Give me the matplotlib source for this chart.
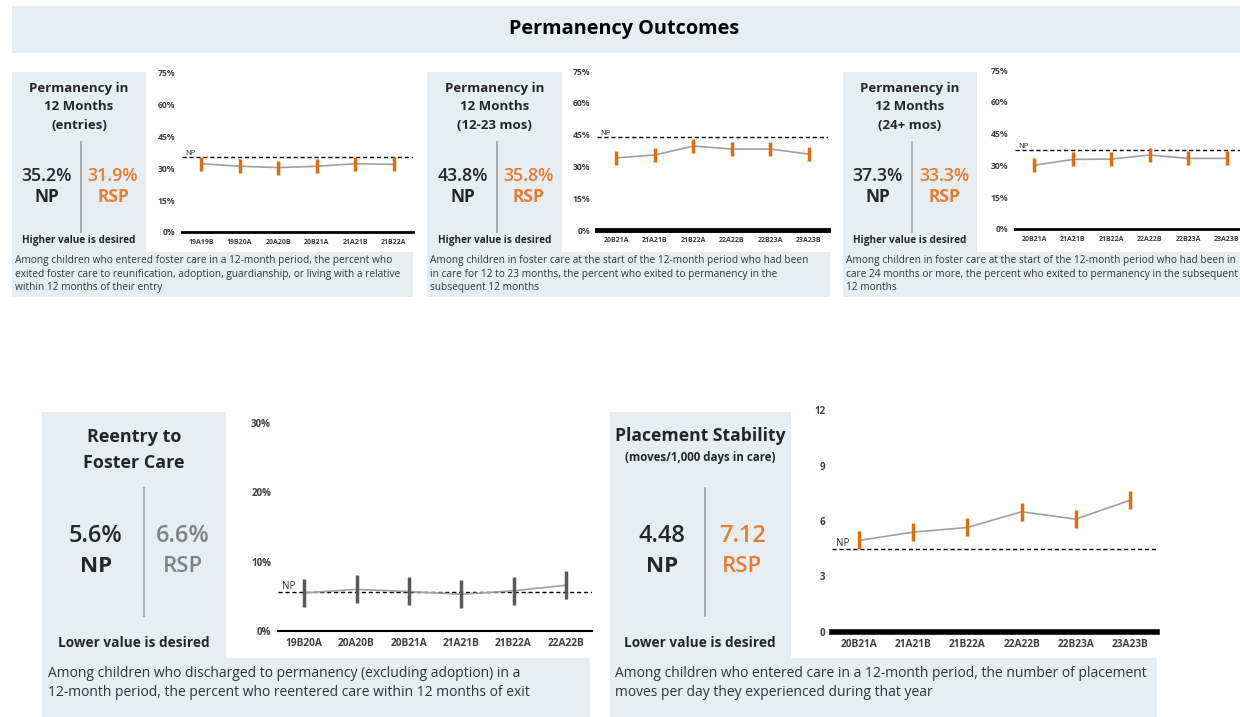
import matplotlib.pyplot as plt
from matplotlib.patches import Rectangle
from matplotlib.lines import Line2D
from matplotlib.transforms import blended_transform_factory

plt.rcParams['font.family'] = ['Open Sans', 'DejaVu Sans']

W, H = 1240, 717
BG = '#e6eef4'
ORANGE = '#e46c0a'
ORANGE_TXT = '#e97c30'
DARK = '#262626'

# ---- data ----
entries_periods = ['19A19B', '19B20A', '20A20B', '20B21A', '21A21B', '21B22A']
entries_rsp = [32.2, 31.0, 30.4, 31.0, 32.2, 31.9]
entries_np = 35.2

mos12_periods = ['20B21A', '21A21B', '21B22A', '22A22B', '22B23A', '23A23B']
mos12_rsp = [34.0, 35.4, 39.6, 38.2, 38.2, 35.8]
mos12_np = 43.8

mos24_periods = ['20B21A', '21A21B', '21B22A', '22A22B', '22B23A', '23A23B']
mos24_rsp = [30.1, 32.8, 33.0, 34.9, 33.3, 33.3]
mos24_np = 37.3

reentry_periods = ['19B20A', '20A20B', '20B21A', '21A21B', '21B22A', '22A22B']
reentry_rsp = [5.5, 6.0, 5.7, 5.3, 5.8, 6.6]
reentry_np = 5.6

stability_periods = ['20B21A', '21A21B', '21B22A', '22A22B', '22B23A', '23A23B']
stability_rsp = [4.95, 5.4, 5.65, 6.5, 6.1, 7.12]
stability_np = 4.48

pct_ticks = [0, 15, 30, 45, 60, 75]
reentry_ticks = [0, 10, 20, 30]
stability_ticks = [0, 3, 6, 9, 12]

fig = plt.figure(figsize=(12.4, 7.17), dpi=100)
fig.patch.set_facecolor('white')


def box(x0, y0, x1, y1, color=BG):
    fig.add_artist(Rectangle((x0 / W, 1 - y1 / H), (x1 - x0) / W, (y1 - y0) / H,
                             transform=fig.transFigure, facecolor=color,
                             edgecolor='none', zorder=0))


def txt(x, y, s, **kw):
    kw.setdefault('ha', 'center')
    kw.setdefault('va', 'center')
    kw.setdefault('color', DARK)
    fig.text(x / W, 1 - y / H, s, **kw)


def vline(x, y0, y1):
    fig.add_artist(Line2D([x / W, x / W], [1 - y0 / H, 1 - y1 / H], color='#a6a6a6',
                          lw=1.3, transform=fig.transFigure))


def chart(x0, x1, ytop, ybot, periods, vals, np_val, ymax, ticks, fmt,
          mcolor, ms, mew, spine_lw, tsize, xsize, npsize):
    ax = fig.add_axes([x0 / W, 1 - ybot / H, (x1 - x0) / W, (ybot - ytop) / H])
    ax.patch.set_alpha(0)
    ax.axhline(np_val, color='black', lw=1, ls=(0, (3, 2)), zorder=1)
    ax.plot(range(len(vals)), vals, color='#a0a0a0', lw=1.2, zorder=2)
    ax.plot(range(len(vals)), vals, ls='none', marker='|', ms=ms, mew=mew,
            color=mcolor, zorder=3)
    tr = blended_transform_factory(ax.transAxes, ax.transData)
    ax.text(0.012, np_val, 'NP', transform=tr, ha='left', va='bottom',
            fontsize=npsize, color=DARK)
    ax.set_xlim(-0.5, len(vals) - 0.5)
    ax.set_ylim(0, ymax)
    ax.set_yticks(ticks, [fmt.format(t) for t in ticks])
    ax.set_xticks(range(len(periods)), periods)
    for s in ['top', 'right', 'left']:
        ax.spines[s].set_visible(False)
    ax.spines['bottom'].set_linewidth(spine_lw)
    ax.spines['bottom'].set_color('black')
    ax.tick_params(axis='y', length=0, pad=5, labelsize=tsize, labelcolor='#404040')
    ax.tick_params(axis='x', length=0, pad=5, labelsize=xsize, labelcolor='#404040')
    for lab in ax.get_xticklabels() + ax.get_yticklabels():
        lab.set_fontweight('bold')
    return ax


# ---- banner ----
box(12, 6, 1240, 53)
txt(624, 29, 'Permanency Outcomes', fontsize=14.3, fontweight='bold', color='black')

# ---- top row ----
top = [
    (12, 146, 413, 182, 413, 232, 'Permanency in\n12 Months\n(entries)', '35.2%', '31.9%',
     entries_periods, entries_rsp, entries_np, 2.0,
     'Among children who entered foster care in a 12-month period, the percent who\n'
     'exited foster care to reunification, adoption, guardianship, or living with a relative\n'
     'within 12 months of their entry'),
    (427, 562, 830, 597, 828, 230, 'Permanency in\n12 Months\n(12-23 mos)', '43.8%', '35.8%',
     mos12_periods, mos12_rsp, mos12_np, 3.5,
     'Among children in foster care at the start of the 12-month period who had been\n'
     'in care for 12 to 23 months, the percent who exited to permanency in the\n'
     'subsequent 12 months'),
    (843, 977, 1240, 1015, 1246, 229, 'Permanency in\n12 Months\n(24+ mos)', '37.3%', '33.3%',
     mos24_periods, mos24_rsp, mos24_np, 2.0,
     'Among children in foster care at the start of the 12-month period who had been in\n'
     'care 24 months or more, the percent who exited to permanency in the subsequent\n'
     '12 months'),
]

for (bx0, bx1, dx1, ax0, ax1, ybot, title, npv, rspv, per, vals, npval, slw, desc) in top:
    box(bx0, 72, bx1, 253)
    box(bx0, 252, dx1, 297)
    cx = (bx0 + bx1) / 2
    txt(cx, 107, title, fontsize=9.5, fontweight='bold', linespacing=1.55)
    vline(cx + 2, 142, 232)
    txt(cx - 32, 176, npv, fontsize=12.8, fontweight='semibold')
    txt(cx - 32, 197, 'NP', fontsize=12.5, fontweight='bold')
    txt(cx + 34, 176, rspv, fontsize=12.8, fontweight='semibold', color=ORANGE_TXT)
    txt(cx + 34, 197, 'RSP', fontsize=12.5, fontweight='bold', color=ORANGE_TXT)
    txt(cx, 240, 'Higher value is desired', fontsize=7.2, fontweight='bold')
    txt(bx0 + 3, 274, desc, ha='left', fontsize=7.3, color='#333333', linespacing=1.35)
    chart(ax0, ax1, ybot - 2.12 * 75, ybot, per, vals, npval, 75, pct_ticks, '{}%',
          ORANGE, 10, 2.5, slw, 6.2, 5, 5.5)

# ---- bottom left: reentry ----
box(42, 412, 226, 659)
box(42, 658, 590, 717)
txt(134, 450, 'Reentry to\nFoster Care', fontsize=13, fontweight='bold', linespacing=1.6)
vline(144, 488, 616)
txt(96, 536, '5.6%', fontsize=17, fontweight='semibold')
txt(96, 567, 'NP', fontsize=16, fontweight='bold')
txt(183, 536, '6.6%', fontsize=17, fontweight='semibold', color='#808080')
txt(183, 567, 'RSP', fontsize=16, fontweight='semibold', color='#808080')
txt(134, 643, 'Lower value is desired', fontsize=9.8, fontweight='bold')
txt(48, 683, 'Among children who discharged to permanency (excluding adoption) in a\n'
    '12-month period, the percent who reentered care within 12 months of exit',
    ha='left', fontsize=10, color='#333333', linespacing=1.35)
chart(278, 592, 631 - 6.93 * 31, 631, reentry_periods, reentry_rsp, reentry_np, 31,
      reentry_ticks, '{}%', '#595959', 20, 2.5, 1.5, 7, 7.3, 7)

# ---- bottom right: placement stability ----
box(610, 412, 791, 659)
box(610, 658, 1157, 717)
txt(700, 436, 'Placement Stability', fontsize=12.6, fontweight='bold')
txt(700, 458, '(moves/1,000 days in care)', fontsize=8.3, fontweight='bold')
vline(705, 488, 616)
txt(662, 536, '4.48', fontsize=17, fontweight='semibold')
txt(662, 567, 'NP', fontsize=16, fontweight='bold')
txt(742, 536, '7.12', fontsize=17, fontweight='semibold', color=ORANGE_TXT)
txt(742, 567, 'RSP', fontsize=16, fontweight='semibold', color=ORANGE_TXT)
txt(700, 643, 'Lower value is desired', fontsize=9.8, fontweight='bold')
txt(615, 683, 'Among children who entered care in a 12-month period, the number of placement\n'
    'moves per day they experienced during that year',
    ha='left', fontsize=10, color='#333333', linespacing=1.35)
chart(832, 1157, 632 - 18.5 * 12.2, 632, stability_periods, stability_rsp, stability_np, 12.2,
      stability_ticks, '{}', ORANGE, 13, 2.5, 4, 7, 7.3, 7)

fig.savefig('out.png', dpi=100)
